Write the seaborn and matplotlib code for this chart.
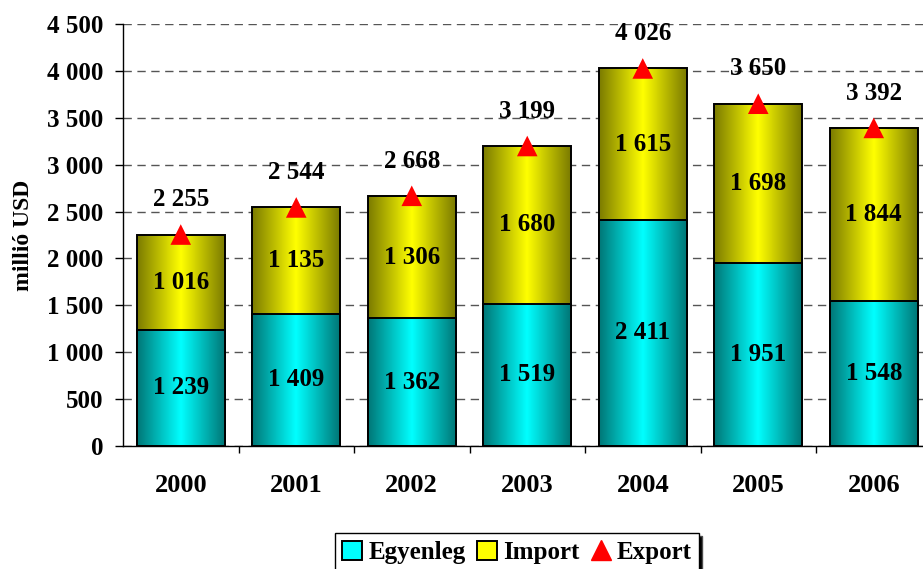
import matplotlib
matplotlib.use("Agg")
import matplotlib.pyplot as plt
import matplotlib.colors as mcolors
from matplotlib.patches import Patch
from matplotlib.lines import Line2D
import seaborn as sns
import pandas as pd
import numpy as np

years = ["2000", "2001", "2002", "2003", "2004", "2005", "2006"]
egyenleg = [1239, 1409, 1362, 1519, 2411, 1951, 1548]
import_ = [1016, 1135, 1306, 1680, 1615, 1698, 1844]
export = [2255, 2544, 2668, 3199, 4026, 3650, 3392]

df = pd.DataFrame({"ev": years, "Egyenleg": egyenleg, "Import": import_, "Export": export})


def fmt(v):
    return f"{v:,}".replace(",", " ")


def gradient_fill(ax, patches, dark, bright):
    cmap = mcolors.LinearSegmentedColormap.from_list("g", [dark, bright, dark])
    grad = np.linspace(0, 1, 256).reshape(1, -1)
    for p in patches:
        x0, y0 = p.get_x(), p.get_y()
        w, h = p.get_width(), p.get_height()
        ax.imshow(grad, cmap=cmap, aspect="auto", extent=(x0, x0 + w, y0, y0 + h),
                  zorder=p.get_zorder() - 0.1, interpolation="bicubic")
        p.set_facecolor("none")
        p.set_edgecolor("black")
        p.set_linewidth(1.4)


sns.set_style("white")
plt.rcParams["font.family"] = ["Liberation Serif", "DejaVu Serif"]
plt.rcParams["font.weight"] = "bold"
plt.rcParams["text.color"] = "black"
plt.rcParams["axes.labelcolor"] = "black"
plt.rcParams["xtick.color"] = "black"
plt.rcParams["ytick.color"] = "black"

fig = plt.figure(figsize=(9.23, 5.69), dpi=100)
ax = fig.add_axes([123 / 923, 123 / 569, 808.5 / 923, 422 / 569])

# total bar (egyenleg + import) then egyenleg on top
sns.barplot(data=df, x="ev", y="Export", color="yellow", width=0.76, ax=ax, zorder=3)
n_total = len(ax.patches)
sns.barplot(data=df, x="ev", y="Egyenleg", color="cyan", width=0.76, ax=ax, zorder=4)
tot_patches = ax.patches[:n_total]
eg_patches = ax.patches[n_total:]
gradient_fill(ax, tot_patches, "#7a7a00", "#ffff00")
gradient_fill(ax, eg_patches, "#007676", "#00ffff")

sns.scatterplot(data=df, x="ev", y="Export", marker="^", color="red", s=220,
                edgecolor="none", ax=ax, zorder=6, legend=False)

for i in range(len(years)):
    ax.text(i, egyenleg[i] / 2, fmt(egyenleg[i]), ha="center", va="center",
            fontsize=18, fontweight="bold", zorder=7)
    ax.text(i, egyenleg[i] + import_[i] / 2, fmt(import_[i]), ha="center", va="center",
            fontsize=18, fontweight="bold", zorder=7)
    ax.annotate(fmt(export[i]), (i, export[i]), xytext=(0, 25), textcoords="offset points",
                ha="center", va="center", fontsize=18, fontweight="bold", zorder=7)

ax.set_xlim(-0.5, len(years) - 0.5)
ax.set_ylim(0, 4500)
yt = np.arange(0, 4501, 500)
ax.set_yticks(yt)
ax.set_yticklabels([fmt(v) for v in yt], fontsize=18, fontweight="bold")
ax.yaxis.grid(True, linestyle=(0, (6, 4)), color="#555555", linewidth=1)
ax.set_axisbelow(True)
ax.tick_params(axis="y", direction="out", length=6, width=1, color="black", left=True, pad=8)
ax.set_xticks(range(len(years)))
ax.set_xticklabels(years, fontsize=19, fontweight="bold")
ax.set_xticks(np.arange(0.5, len(years) - 0.5, 1), minor=True)
ax.tick_params(axis="x", which="major", length=0, pad=20)
ax.tick_params(axis="x", which="minor", direction="out", length=5, width=1, color="black", bottom=True)
ax.set_xlabel("")
ax.set_ylabel("millió USD", fontsize=17, fontweight="bold")
ax.yaxis.set_label_coords(-0.11, 0.5)

for s in ["top", "right"]:
    ax.spines[s].set_visible(False)
for s in ["left", "bottom"]:
    ax.spines[s].set_color("black")
    ax.spines[s].set_linewidth(1)
ax.spines["bottom"].set_zorder(8)

handles = [
    Patch(facecolor="cyan", edgecolor="black", linewidth=1.4),
    Patch(facecolor="yellow", edgecolor="black", linewidth=1.4),
    Line2D([], [], marker="^", color="red", linestyle="none", markersize=15),
]
leg = fig.legend(handles, ["Egyenleg", "Import", "Export"], loc="upper center",
                 bbox_to_anchor=(517 / 923, 1 - 533 / 569), ncol=3, frameon=True,
                 fancybox=False, shadow={"facecolor": "black", "alpha": 1},
                 prop={"size": 18, "weight": "bold"}, handlelength=0.8, handleheight=0.8,
                 handletextpad=0.25, columnspacing=0.45, borderpad=0.3, borderaxespad=0)
leg.get_frame().set_edgecolor("black")
leg.get_frame().set_linewidth(1)

fig.savefig("out.png", dpi=100)
